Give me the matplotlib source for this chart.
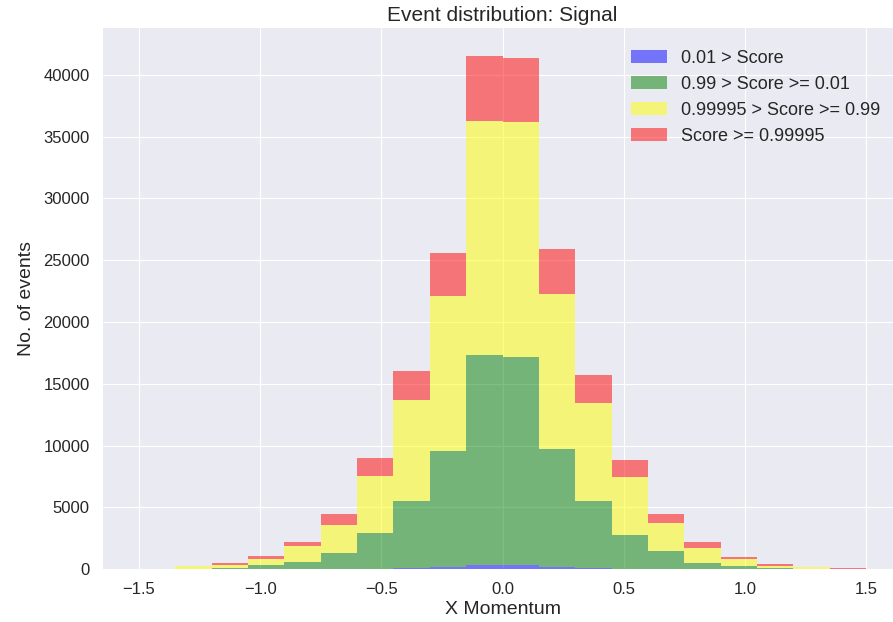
import matplotlib
matplotlib.use("Agg")
import matplotlib.pyplot as plt
import numpy as np

# 20 bins of width 0.15 between -1.5 and 1.5
bin_edges = np.linspace(-1.5, 1.5, 21)
bin_centers = (bin_edges[:-1] + bin_edges[1:]) / 2

# counts per class in each bin
low_score = [0, 0, 0, 0, 0, 0, 30, 80, 150, 300,
             300, 150, 80, 30, 0, 0, 0, 0, 0, 0]
mid_score = [0, 20, 130, 297, 568, 1280, 2869, 5419, 9413, 17038,
             16902, 9575, 5419, 2750, 1433, 514, 243, 120, 30, 5]
high_score = [0, 220, 180, 541, 1297, 2320, 4659, 8181, 12570, 18925,
              18953, 12570, 7911, 4640, 2324, 1189, 595, 140, 150, 25]
top_score = [0, 20, 170, 189, 297, 865, 1463, 2357, 3487, 5253,
             5199, 3625, 2302, 1430, 703, 459, 162, 160, 20, 100]

labels = ["0.01 > Score", "0.99 > Score >= 0.01",
          "0.99995 > Score >= 0.99", "Score >= 0.99995"]
colors = ["blue", "green", "yellow", "red"]

plt.style.use("seaborn-v0_8-darkgrid")
plt.rcParams["font.family"] = ["Liberation Sans", "DejaVu Sans"]

fig = plt.figure(figsize=(8.93, 6.22), dpi=100)
# the original picture is cut on the right, so the axes run past the edge
ax = fig.add_axes([0.115, 0.085, 0.8955, 0.870])

ax.hist([bin_centers] * 4, bins=bin_edges,
        weights=[low_score, mid_score, high_score, top_score],
        stacked=True, histtype="bar", color=colors, alpha=0.5,
        label=labels)

ax.set_xlim(-1.65, 1.65)
ax.set_ylim(0, 43800)
ax.set_xticks([-1.5, -1.0, -0.5, 0.0, 0.5, 1.0, 1.5])
ax.tick_params(labelsize=12, pad=9.5)
ax.set_title("Event distribution: Signal", fontsize=15, pad=5)
ax.set_xlabel("X Momentum", fontsize=14, labelpad=3)
ax.set_ylabel("No. of events", fontsize=14, labelpad=6)
ax.legend(loc="upper right", fontsize=13, borderaxespad=0.8)

fig.savefig("out.png", dpi=100)
